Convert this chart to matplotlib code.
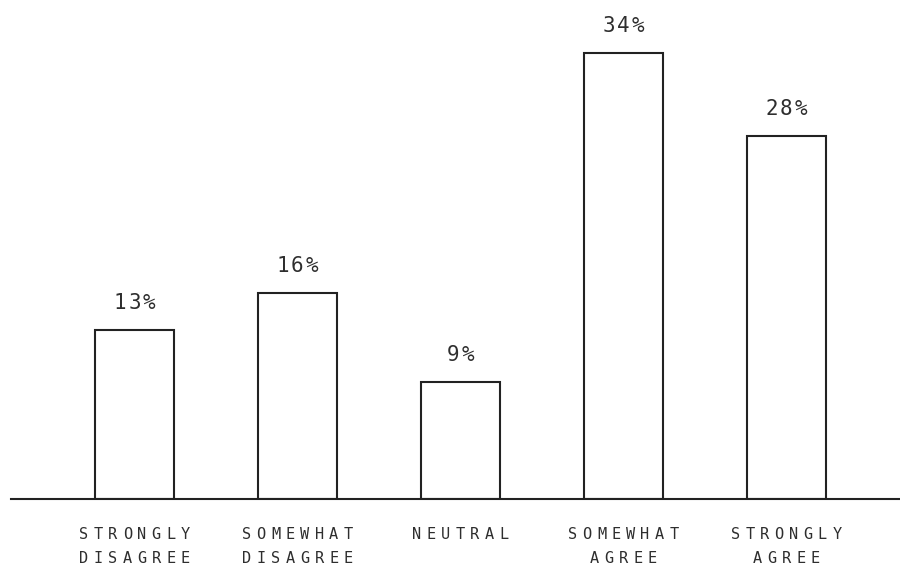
import matplotlib
matplotlib.use('Agg')
import matplotlib.pyplot as plt
import numpy as np

# survey answers
categories = ['STRONGLY\nDISAGREE', 'SOMEWHAT\nDISAGREE', 'NEUTRAL',
              'SOMEWHAT\nAGREE', 'STRONGLY\nAGREE']
values = [13.0, 15.9, 9.0, 34.4, 28.0]   # percent

INK = '#222222'
TXT = '#2e2e2e'
PX = 0.72  # points per pixel at dpi 100
FONT = 'DejaVu Sans Mono'


def spaced(ax, xy, coords, off_px, s, step_px, size):
    # one char at a time, to get the wide tracking of the original
    n = len(s)
    for j, ch in enumerate(s):
        dx = (j - (n - 1) / 2) * step_px
        ax.annotate(ch, xy=xy, xycoords=coords,
                    xytext=(dx * PX, off_px * PX), textcoords='offset points',
                    ha='center', va='baseline', fontsize=size,
                    family=FONT, color=TXT, annotation_clip=False)


fig = plt.figure(figsize=(9, 5.69), dpi=100)
ax = fig.add_axes([11 / 900, 70.5 / 569, 889 / 900, 498.5 / 569])

x = np.arange(len(categories))
ax.bar(x, values, width=0.485, color='white', edgecolor=INK, linewidth=1.5)

ax.set_xlim(-0.758, 4.699)
ax.set_ylim(0, 38.49)

for i, v in enumerate(values):
    spaced(ax, (i, v), 'data', 21, '%.0f%%' % v, 14.5, 15)

for i, lab in enumerate(categories):
    for k, line in enumerate(lab.split('\n')):
        spaced(ax, (i, 0), ('data', 'axes fraction'), -40.5 - 24 * k, line, 14.5, 11)

for s in ['top', 'right', 'left']:
    ax.spines[s].set_visible(False)
ax.spines['bottom'].set_color(INK)
ax.spines['bottom'].set_linewidth(1.5)
ax.set_xticks([])
ax.set_yticks([])
ax.patch.set_alpha(0)

fig.savefig('out.png', dpi=100)
